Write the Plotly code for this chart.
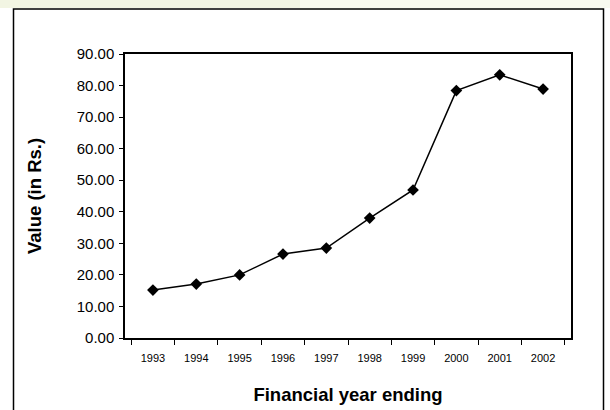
import plotly.graph_objects as go

years = ["1993", "1994", "1995", "1996", "1997", "1998", "1999", "2000", "2001", "2002"]
values = [15.2, 17.1, 20.0, 26.6, 28.5, 38.0, 46.9, 78.4, 83.4, 78.9]
y_ticks = [0, 10, 20, 30, 40, 50, 60, 70, 80, 90]

W, H = 610, 410
L, R, T, B = 125, 39, 54, 72
pw, ph = W - L - R, H - T - B

def px(x):
    return (x - L) / pw

def py(y):
    return (H - B - y) / ph

fig = go.Figure()
fig.add_trace(go.Scatter(
    x=years, y=values, mode="lines+markers",
    line=dict(color="black", width=1.5),
    marker=dict(symbol="diamond", size=9, color="black"),
    showlegend=False,
))

fig.update_layout(
    width=W, height=H,
    margin=dict(l=L, r=R, t=T, b=B),
    paper_bgcolor="white", plot_bgcolor="white",
    font=dict(family="Liberation Sans, Arial", color="black"),
    xaxis=dict(
        type="category", tickson="boundaries", ticks="outside", ticklen=5,
        tickcolor="black", showline=True, linecolor="black", linewidth=1.5,
        mirror=True, showgrid=False, tickfont=dict(size=11), ticklabelstandoff=9,
        automargin=False,
        title=dict(text="<b>Financial year ending</b>", font=dict(size=18.5), standoff=25),
    ),
    yaxis=dict(
        range=[0, 90], tickvals=y_ticks, tickformat=".2f", ticks="outside", ticklen=4,
        tickcolor="black", showline=True, linecolor="black", linewidth=1.5,
        mirror=True, showgrid=False, zeroline=False, tickfont=dict(size=15),
        ticklabelstandoff=2, automargin=False,
        title=dict(text="<b>Value (in Rs.)</b>", font=dict(size=18.5), standoff=30),
    ),
    shapes=[
        dict(type="rect", xref="paper", yref="paper",
             x0=px(0), x1=px(300), y0=py(8), y1=py(0),
             fillcolor="#f2f5e3", line=dict(width=0), layer="below"),
        dict(type="rect", xref="paper", yref="paper",
             x0=px(300), x1=px(610), y0=py(8), y1=py(0),
             fillcolor="#f8f9f0", line=dict(width=0), layer="below"),
        dict(type="rect", xref="paper", yref="paper",
             x0=px(13.5), x1=px(603.5), y0=py(420), y1=py(9),
             line=dict(color="black", width=1.5), fillcolor="rgba(0,0,0,0)"),
    ],
)

fig.write_html("out.html")
